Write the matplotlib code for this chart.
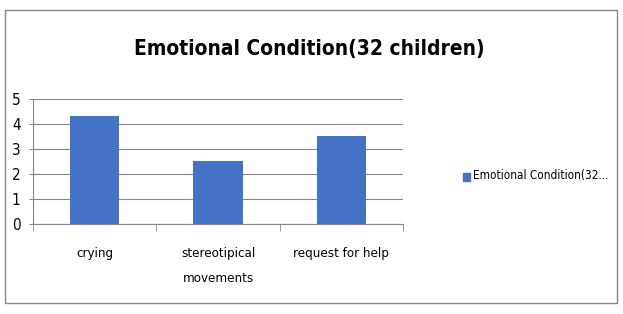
import matplotlib.pyplot as plt
from matplotlib.patches import Rectangle

# Data
categories = ["crying", "stereotipical\nmovements", "request for help"]
values = [4.33, 2.5, 3.5]
series_name = "Emotional Condition(32 children)"
legend_label = "Emotional Condition(32..."

plt.rcParams['font.family'] = ["DejaVu Sans"]
plt.rcParams['font.stretch'] = 'condensed'

bar_color = "#4472C4"

fig = plt.figure(figsize=(6.23, 3.14), dpi=100)
ax = fig.add_axes([0.053, 0.287, 0.594, 0.398])

x = range(len(categories))
ax.bar(x, values, width=0.4, color=bar_color, zorder=3)

ax.set_xlim(-0.5, len(categories) - 0.5)
ax.set_ylim(0, 5)
ax.set_yticks(range(0, 6))
ax.tick_params(axis='y', labelsize=11, length=3, color="#868686", pad=6)

# category labels without ticks, boundary ticks separately
ax.set_xticks(list(x))
ax.set_xticklabels(categories, fontsize=9.5, linespacing=2.2)
ax.tick_params(axis='x', length=0, pad=17)
ax.set_xticks([i - 0.5 for i in range(len(categories) + 1)], minor=True)
ax.tick_params(axis='x', which='minor', length=5, color="#868686")

ax.grid(axis='y', color="#868686", linewidth=0.8, zorder=0)
for side in ["top", "right"]:
    ax.spines[side].set_visible(False)
ax.spines["left"].set_color("#868686")
ax.spines["bottom"].set_color("#868686")

fig.text(0.497, 0.845, series_name, ha='center', va='center',
         fontsize=15, fontweight='bold')

# legend
fig.patches.append(Rectangle((463 / 623, 1 - 181 / 314), 7 / 623, 8 / 314,
                             transform=fig.transFigure, color=bar_color))
fig.text(473 / 623, 1 - 176 / 314, legend_label, ha='left', va='center', fontsize=8.5)

# outer border
fig.patches.append(Rectangle((5 / 623, 1 - 303 / 314), 612 / 623, 293 / 314,
                             transform=fig.transFigure, fill=False,
                             edgecolor="#868686", linewidth=1))

fig.savefig("out.png", dpi=100)
